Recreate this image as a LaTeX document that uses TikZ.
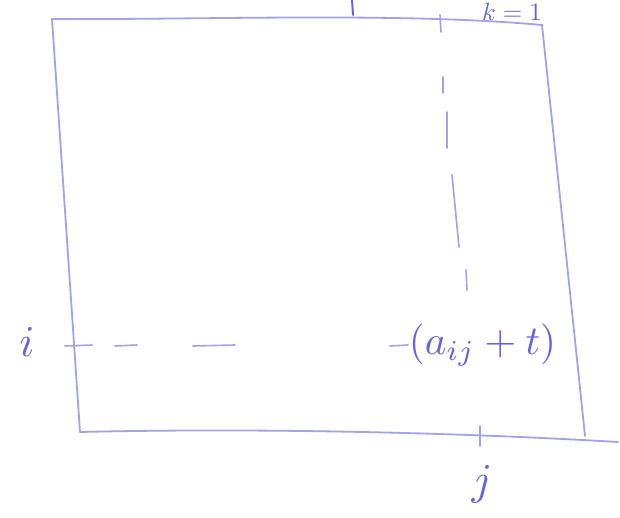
\documentclass[tikz,border=0pt]{standalone}
\usepackage{xcolor}
\definecolor{Pen}{HTML}{6464DE}
\definecolor{PenLight}{HTML}{A2A2EA}
\usepackage{tikz}
\usetikzlibrary{positioning}

\begin{document}
\begin{tikzpicture}[x=1pt,y=-1pt,line cap=round]
\tikzset{sketch/.style={PenLight,line width=1.8pt},
  guide/.style={PenLight,line width=1.6pt},
  handtext/.style={Pen,inner sep=0pt}}
\useasboundingbox (0,0) rectangle (620,518);
% the sheet
\draw[sketch] (52,19) .. controls (200,20) and (400,12) .. (542,25) -- (585,436);
\draw[sketch] (52,19) -- (80,432);
\draw[sketch] (80,432) .. controls (250,428) and (450,432) .. (618,442);
% ticks
\draw[Pen,line width=2pt] (352,0) -- (353,15);
\draw[PenLight,line width=1.6pt] (440,15) -- (441,32);
\draw[PenLight,line width=1.6pt] (480,426) -- (480,446);
% labels
\node[handtext,scale=2.5] (k) at (512,12) {$k=1$};
\node[handtext,scale=4.4] (i) at (27,342) {$i$};
\node[handtext,scale=4.4] (j) at (482,484) {$j$};
\node[handtext,scale=4.1,anchor=west] (aij) at (408,345) {$(a_{ij}+t)$};
% guide lines
\foreach \xa/\xb in {65/92,115/137,193/235,390/408}
  \draw[guide] (\xa,346) -- (\xb,345);
\foreach \xa/\ya/\xb/\yb in {443/77/443/93,447/112/447/148,452/175/459/247,466/270/467/290}
  \draw[guide] (\xa,\ya) -- (\xb,\yb);
\end{tikzpicture}
\end{document}
